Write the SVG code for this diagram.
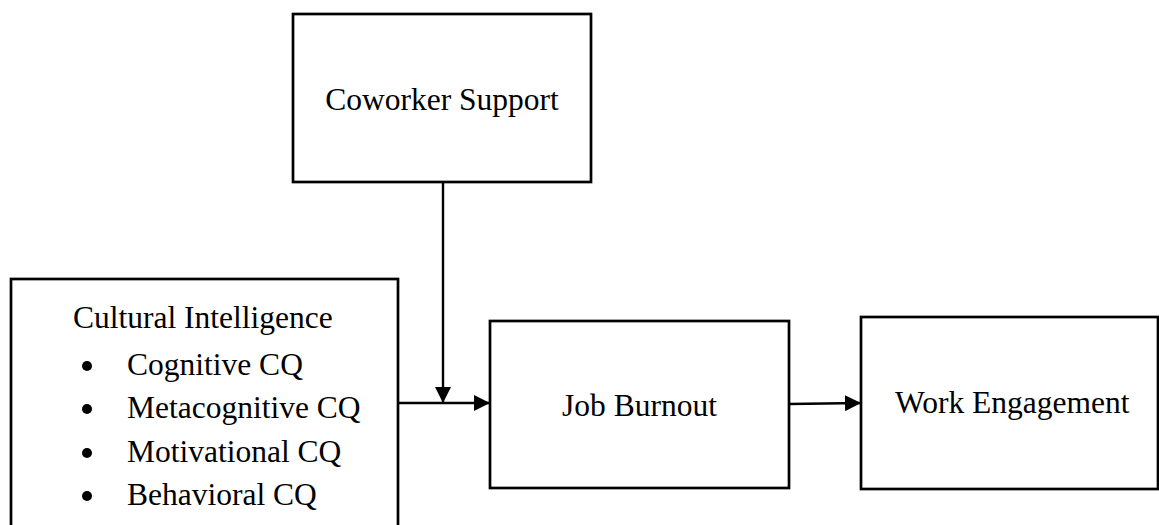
<svg xmlns="http://www.w3.org/2000/svg" width="1159" height="525" viewBox="0 0 1159 525">
<style>
.box{fill:#fff;stroke:#000;stroke-width:2.7}
.t{font-family:"Liberation Serif","Times New Roman",serif;font-size:31.5px;fill:#000}
.c{stroke:#000;stroke-width:2.4;fill:none}
</style>
<defs>
<marker id="ah" markerUnits="userSpaceOnUse" markerWidth="16" markerHeight="16" viewBox="0 0 16 16" refX="16" refY="8" orient="auto">
<path d="M0,0 L16,8 L0,16 Z" fill="#000"/>
</marker>
</defs>
<rect width="1159" height="525" fill="#fff"/>
<g id="coworker">
<rect class="box" x="293" y="14" width="298" height="168"/>
<text class="t" x="442" y="110" text-anchor="middle">Coworker Support</text>
</g>
<g id="cq">
<rect class="box" x="11" y="279" width="387" height="260"/>
<text class="t" x="73" y="328">Cultural Intelligence</text>
<circle cx="87" cy="366" r="5"/>
<text class="t" x="127" y="375">Cognitive CQ</text>
<circle cx="87" cy="409" r="5"/>
<text class="t" x="127" y="418">Metacognitive CQ</text>
<circle cx="87" cy="453" r="5"/>
<text class="t" x="127" y="462">Motivational CQ</text>
<circle cx="87" cy="496" r="5"/>
<text class="t" x="127" y="505">Behavioral CQ</text>
</g>
<g id="burnout">
<rect class="box" x="490" y="321" width="299" height="167"/>
<text class="t" x="639.5" y="416" text-anchor="middle">Job Burnout</text>
</g>
<g id="engagement">
<rect class="box" x="861" y="317" width="297" height="172"/>
<text class="t" x="895" y="413">Work Engagement</text>
</g>
<g id="connectors">
<line class="c" x1="443" y1="182" x2="443" y2="403" marker-end="url(#ah)"/>
<line class="c" x1="398" y1="403" x2="490" y2="403" marker-end="url(#ah)"/>
<line class="c" x1="789" y1="404" x2="861" y2="403" marker-end="url(#ah)"/>
</g>
</svg>
